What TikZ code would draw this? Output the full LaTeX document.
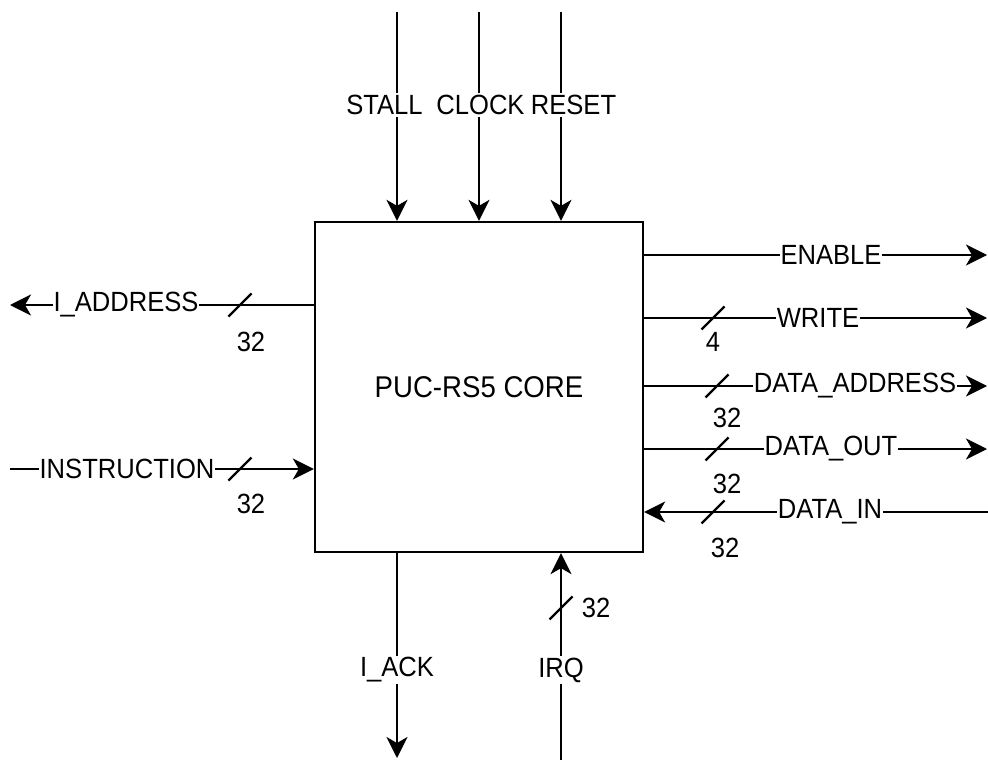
\documentclass[tikz,border=0pt]{standalone}
\usepackage{fontspec}
\usepackage{graphicx}
\setmainfont{Liberation Sans}
\usetikzlibrary{arrows.meta}
\newcommand\sqz[1]{\scalebox{0.92}[1]{#1}}
\begin{document}
\begin{tikzpicture}[x=1pt,y=-1pt,line width=2.3pt,
  sig/.style={-{Stealth[length=21pt,width=21pt,inset=6pt]}},
  txt/.style={font=\fontsize{27.8}{32}\selectfont},
  lbl/.style={txt,fill=white,inner xsep=1pt,inner ysep=2pt},
  num/.style={txt,inner sep=0pt},
  slash/.style={line width=2.3pt}]
\useasboundingbox (0,0) rectangle (988,760);
\node[draw,minimum width=328pt,minimum height=330pt,inner sep=0pt,font=\fontsize{30}{34}\selectfont] (core) at (479,387) {\sqz{PUC-RS5 CORE}};
% top inputs
\coordinate (stallS) at (397,12);
\coordinate (clockS) at (479,12);
\coordinate (resetS) at (561,12);
\draw[sig] (stallS) -- (stallS |- core.north);
\draw[sig] (clockS) -- (clockS |- core.north);
\draw[sig] (resetS) -- (resetS |- core.north);
\node[lbl] (stallL) at (384.5,105) {\sqz{STALL}};
\node[lbl] (clockL) at (480.5,105) {\sqz{CLOCK}};
\node[lbl] (resetL) at (573.5,105) {\sqz{RESET}};
% left side
\coordinate (iaddrE) at (10,305);
\draw[sig] (core.west |- iaddrE) -- (iaddrE);
\node[lbl] (iaddrL) at (126,305) {\sqz{I\_ADDRESS}};
\draw[slash] (228.5,316.5) -- (251.5,293.5);
\node[num] (iaddrN) at (251,342) {\sqz{32}};
\coordinate (instrS) at (10,469);
\draw[sig] (instrS) -- (core.west |- instrS);
\node[lbl] (instrL) at (127,469) {\sqz{INSTRUCTION}};
\draw[slash] (228.5,480.5) -- (251.5,457.5);
\node[num] (instrN) at (251,504) {\sqz{32}};
% right side
\coordinate (enE) at (987,255);
\draw[sig] (core.east |- enE) -- (enE);
\node[lbl] (enL) at (831,255) {\sqz{ENABLE}};
\coordinate (wrE) at (987,318);
\draw[sig] (core.east |- wrE) -- (wrE);
\node[lbl] (wrL) at (818,318) {\sqz{WRITE}};
\draw[slash] (701.5,329.5) -- (724.5,306.5);
\node[num] (wrN) at (713,342) {\sqz{4}};
\coordinate (daE) at (987,386);
\draw[sig] (core.east |- daE) -- (daE);
\node[lbl] (daL) at (855,386) {\sqz{DATA\_ADDRESS}};
\draw[slash] (705.5,397.5) -- (728.5,374.5);
\node[num] (daN) at (727,418) {\sqz{32}};
\coordinate (doE) at (987,449);
\draw[sig] (core.east |- doE) -- (doE);
\node[lbl] (doL) at (831,449) {\sqz{DATA\_OUT}};
\draw[slash] (705.5,460.5) -- (728.5,437.5);
\node[num] (doN) at (727,484) {\sqz{32}};
\coordinate (diS) at (988,512);
\draw[sig] (diS) -- (core.east |- diS);
\node[lbl] (diL) at (830,512) {\sqz{DATA\_IN}};
\draw[slash] (701.5,523.5) -- (724.5,500.5);
\node[num] (diN) at (725,548) {\sqz{32}};
% bottom
\coordinate (iackE) at (397,758);
\draw[sig] (core.south -| iackE) -- (iackE);
\node[lbl] (iackL) at (397,670) {\sqz{I\_ACK}};
\coordinate (irqS) at (561,760);
\draw[sig] (irqS) -- (core.south -| irqS);
\node[lbl] (irqL) at (561,670) {\sqz{IRQ}};
\draw[slash] (549.5,619.5) -- (572.5,596.5);
\node[num] (irqN) at (596,608) {\sqz{32}};
\end{tikzpicture}
\end{document}
